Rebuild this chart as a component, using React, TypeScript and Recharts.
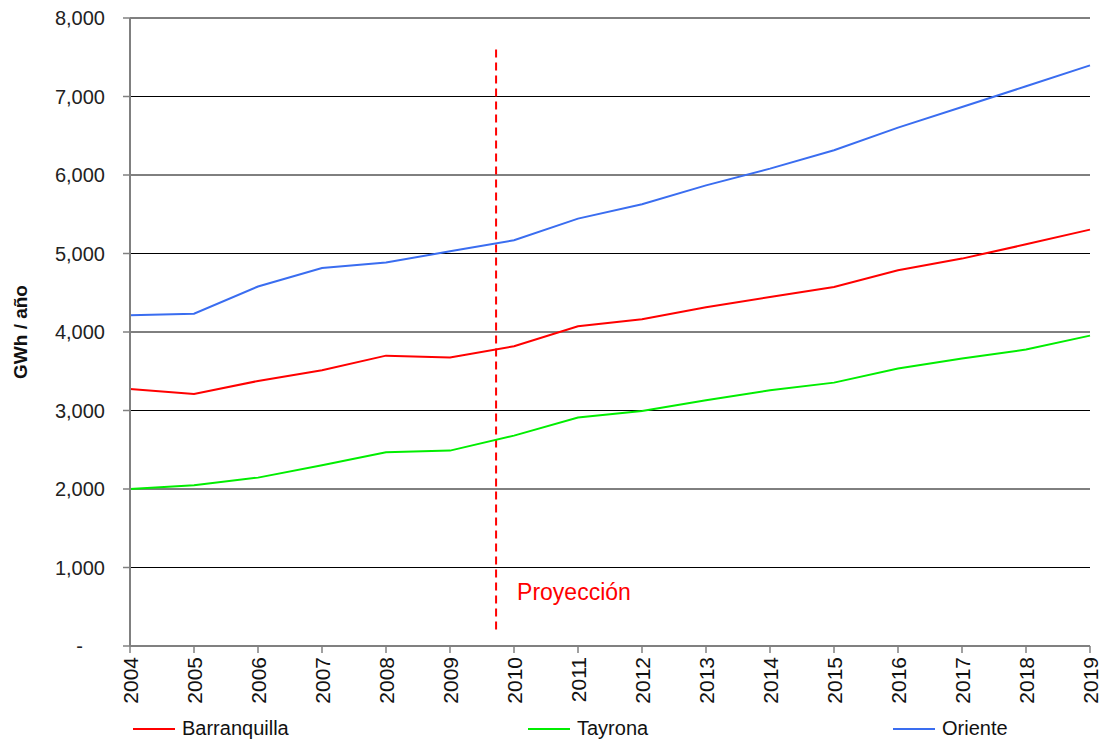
import React from "react";
import {
  LineChart,
  Line,
  XAxis,
  YAxis,
  CartesianGrid,
  Legend,
  ReferenceLine,
  ReferenceDot,
} from "recharts";

const years = [2004, 2005, 2006, 2007, 2008, 2009, 2010, 2011, 2012, 2013, 2014, 2015, 2016, 2017, 2018, 2019];
const barranquilla = [3274, 3210, 3376, 3512, 3699, 3674, 3818, 4073, 4162, 4315, 4446, 4573, 4786, 4935, 5117, 5304];
const tayrona = [2000, 2047, 2145, 2302, 2467, 2489, 2680, 2910, 2994, 3130, 3257, 3355, 3534, 3661, 3776, 3954];
const oriente = [4213, 4234, 4580, 4815, 4884, 5028, 5168, 5444, 5627, 5868, 6081, 6315, 6604, 6866, 7130, 7397];
const yTicks = [0, 1000, 2000, 3000, 4000, 5000, 6000, 7000, 8000];

const projectionYear = 2009.72;

const data = years.map((year, i) => ({
  year,
  Barranquilla: barranquilla[i],
  Tayrona: tayrona[i],
  Oriente: oriente[i],
}));

const series = [
  { key: "Barranquilla", color: "#ff0000" },
  { key: "Tayrona", color: "#00ee00" },
  { key: "Oriente", color: "#3a6df0" },
];

const FONT = "Arial, 'Liberation Sans', sans-serif";

function YTick(props: any) {
  const { x, y, payload } = props;
  const v = payload.value as number;
  const label = v === 0 ? "-" : v.toLocaleString("en-US");
  return (
    <text
      x={v === 0 ? x - 22 : x}
      y={y}
      dy="0.35em"
      textAnchor="end"
      fontFamily={FONT}
      fontSize={20}
      fill="#222"
    >
      {label}
    </text>
  );
}

function XTick(props: any) {
  const { x, y, payload } = props;
  const ty = y + 2;
  return (
    <text
      x={x}
      y={ty}
      dy="0.36em"
      textAnchor="end"
      transform={`rotate(-90, ${x}, ${ty})`}
      fontFamily={FONT}
      fontSize={21}
      fill="#111"
    >
      {payload.value}
    </text>
  );
}

function LegendContent() {
  const lefts = [133, 528, 893];
  return (
    <div style={{ position: "relative", height: 40, fontFamily: FONT, fontSize: 20, color: "#111" }}>
      {series.map((s, i) => (
        <div
          key={s.key}
          style={{ position: "absolute", left: lefts[i], top: 6, display: "flex", alignItems: "center" }}
        >
          <div style={{ width: 42, height: 2, background: s.color, marginRight: 7 }} />
          <span>{s.key}</span>
        </div>
      ))}
    </div>
  );
}

export default function App() {
  return (
    <div style={{ position: "absolute", left: 0, top: 0, width: 1109, height: 751, background: "#fff" }}>
      <LineChart width={1109} height={751} data={data} margin={{ top: 18, right: 19, left: 0, bottom: 0 }}>
        <CartesianGrid vertical={false} stroke="#000" strokeWidth={1} />
        <XAxis
          dataKey="year"
          type="number"
          domain={[2004, 2019]}
          ticks={years}
          interval={0}
          height={65}
          tick={<XTick />}
          tickSize={7}
          axisLine={{ stroke: "#808080", strokeWidth: 2 }}
          tickLine={{ stroke: "#808080", strokeWidth: 1.5 }}
        />
        <YAxis
          domain={[0, 8000]}
          ticks={yTicks}
          width={130}
          tick={<YTick />}
          tickSize={7}
          tickMargin={18}
          axisLine={{ stroke: "#808080", strokeWidth: 2 }}
          tickLine={{ stroke: "#808080", strokeWidth: 1.5 }}
          label={(p: any) => {
            const vb = p.viewBox;
            const cy = vb.y + vb.height / 2;
            return (
              <text
                x={27}
                y={cy}
                transform={`rotate(-90, 27, ${cy})`}
                textAnchor="middle"
                fontFamily={FONT}
                fontSize={19}
                fontWeight="bold"
                fill="#111"
              >
                GWh / año
              </text>
            );
          }}
        />
        <Legend verticalAlign="bottom" height={40} content={<LegendContent />} />
        <ReferenceLine
          segment={[
            { x: projectionYear, y: 7600 },
            { x: projectionYear, y: 170 },
          ]}
          stroke="#ff0000"
          strokeWidth={2}
          strokeDasharray="8 5"
        />
        <ReferenceDot
          x={projectionYear}
          y={690}
          r={0}
          fill="none"
          stroke="none"
          label={{ value: "Proyección", position: "right", offset: 21, fill: "#ff0000", fontSize: 23, fontFamily: FONT }}
        />
        {series.map((s) => (
          <Line
            key={s.key}
            dataKey={s.key}
            stroke={s.color}
            strokeWidth={2}
            dot={false}
            isAnimationActive={false}
            legendType="line"
          />
        ))}
      </LineChart>
    </div>
  );
}
